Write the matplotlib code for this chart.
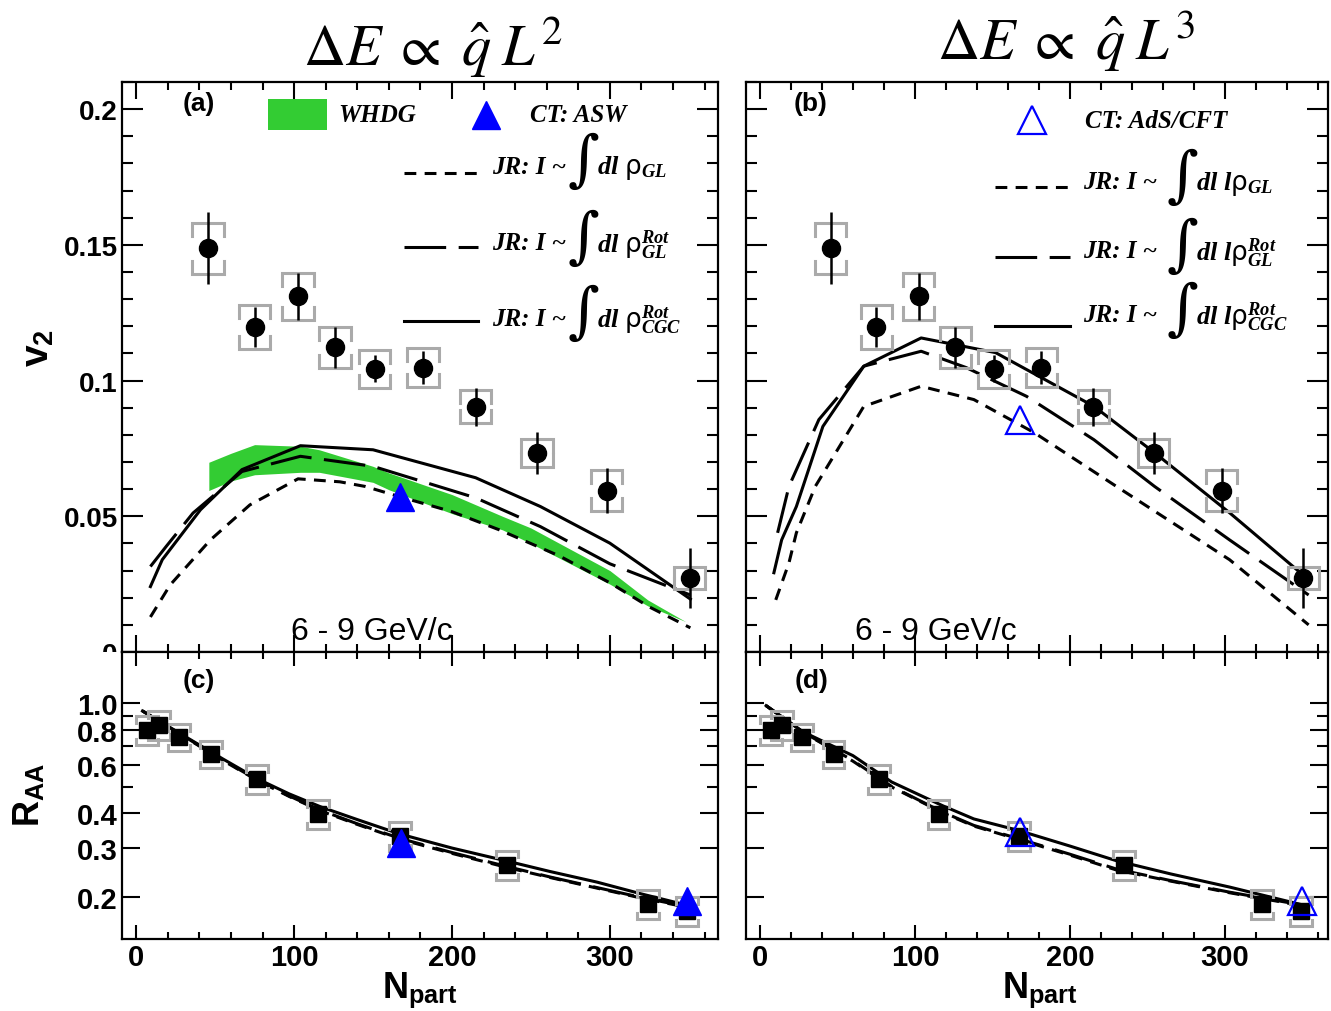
import numpy as np
import matplotlib
matplotlib.use('Agg')
import matplotlib.pyplot as plt
from matplotlib.patches import Rectangle
from matplotlib.transforms import Bbox, TransformedBbox
from matplotlib.ticker import FixedLocator, FixedFormatter, MultipleLocator, NullFormatter

plt.rcParams['mathtext.fontset'] = 'custom'
plt.rcParams['mathtext.it'] = 'Liberation Serif:italic:bold'
plt.rcParams['mathtext.rm'] = 'DejaVu Sans'
plt.rcParams['mathtext.bf'] = 'Liberation Sans:bold'
plt.rcParams['mathtext.sf'] = 'Liberation Sans'
plt.rcParams['lines.scale_dashes'] = False
plt.rcParams['font.family'] = ['Liberation Sans', 'DejaVu Sans']

# ---------------- data ----------------
# v2 (6-9 GeV/c) data
npart_v2 = [45.6, 75.0, 102.5, 126.0, 151.0, 181.6, 215.0, 254.0, 298.0, 350.5]
v2 = [0.1487, 0.1196, 0.1310, 0.1122, 0.1044, 0.1048, 0.0904, 0.0734, 0.0594, 0.0273]
v2_stat = [0.0133, 0.0074, 0.0087, 0.0074, 0.0050, 0.0060, 0.0070, 0.0078, 0.0083, 0.0110]
v2_sys = [0.0094, 0.0081, 0.0087, 0.0074, 0.0070, 0.0072, 0.0061, 0.0052, 0.0076, 0.0042]

# WHDG band (panel a)
whdg_n = [46, 60, 75, 104, 116, 150, 160, 200, 232, 250, 300, 324, 348]
whdg_hi = [0.0699, 0.0732, 0.0764, 0.0758, 0.0745, 0.0684, 0.0660, 0.0580, 0.0500, 0.0457, 0.0300, 0.0192, 0.0112]
whdg_lo = [0.0595, 0.0630, 0.0653, 0.0662, 0.0662, 0.0625, 0.0598, 0.0510, 0.0450, 0.0400, 0.0250, 0.0170, 0.0112]

# JR curves, panel a (dE ~ q L^2)
gl_a_n = [9, 21.5, 47, 72, 102.5, 129, 145, 167, 200, 230, 268, 300, 325, 351]
gl_a = [0.0129, 0.0247, 0.0413, 0.0542, 0.0638, 0.0627, 0.0610, 0.0572, 0.0517, 0.0450, 0.0354, 0.0255, 0.0166, 0.0089]
rotgl_a_n = [9, 19, 36, 67, 104, 150, 215, 256, 300, 351]
rotgl_a = [0.0315, 0.0389, 0.0512, 0.0665, 0.0721, 0.0684, 0.0568, 0.0462, 0.0325, 0.0210]
cgc_a_n = [9, 16.5, 40.7, 67, 104, 150, 215, 256, 300, 351]
cgc_a = [0.0241, 0.0340, 0.0524, 0.0672, 0.0760, 0.0745, 0.0642, 0.0536, 0.0401, 0.0195]
asw_n = [167]
asw_v2 = [0.0572]

# JR curves, panel b (dE ~ q L^3)
gl_b_n = [10.2, 18.7, 23.5, 35.7, 67, 104, 138, 177, 230, 303, 354]
gl_b = [0.0192, 0.0328, 0.0439, 0.0610, 0.0905, 0.0979, 0.0930, 0.0808, 0.0610, 0.0340, 0.0100]
rotgl_b_n = [11.4, 18.7, 38, 67, 104, 133, 172, 215.5, 254.6, 303, 354]
rotgl_b = [0.0439, 0.0610, 0.0856, 0.1053, 0.1108, 0.1048, 0.0942, 0.0782, 0.0610, 0.0413, 0.0210]
cgc_b_n = [9, 14, 23.5, 40.6, 67, 104, 152, 215.5, 254.6, 303, 351.6]
cgc_b = [0.0292, 0.0413, 0.0536, 0.0831, 0.1053, 0.1157, 0.1103, 0.0905, 0.0734, 0.0513, 0.0278]
ads_n = [167.7]
ads_v2 = [0.0856]

# R_AA data
npart_raa = [7.0, 14.2, 27.2, 47.5, 76.6, 115.2, 167.0, 235.0, 324.0, 349.0]
raa = [0.801, 0.833, 0.754, 0.655, 0.532, 0.398, 0.332, 0.2615, 0.1887, 0.178]
raa_sys = [0.12, 0.12, 0.11, 0.11, 0.12, 0.12, 0.12, 0.12, 0.12, 0.12]

# R_AA curves panel c
raa_c_n = [4, 30, 55, 77, 97, 117, 140, 167, 200, 234, 262, 292, 320, 350]
raa_cgc_c = [0.936, 0.763, 0.628, 0.532, 0.470, 0.422, 0.380, 0.337, 0.300, 0.270, 0.247, 0.226, 0.205, 0.186]
raa_rotgl_c = [0.936, 0.760, 0.622, 0.527, 0.462, 0.410, 0.367, 0.325, 0.289, 0.258, 0.236, 0.216, 0.199, 0.184]
raa_gl_c = [0.936, 0.758, 0.620, 0.525, 0.460, 0.408, 0.365, 0.323, 0.287, 0.256, 0.235, 0.215, 0.198, 0.183]
asw_raa_n = [168, 349]
asw_raa = [0.314, 0.193]

# R_AA curves panel d
raa_d_n = [4, 28, 60, 85, 118, 138, 167, 200, 230, 265, 303, 352]
raa_cgc_d = [0.978, 0.786, 0.646, 0.519, 0.426, 0.382, 0.347, 0.305, 0.270, 0.242, 0.217, 0.186]
raa_rotgl_d = [0.978, 0.784, 0.620, 0.500, 0.404, 0.362, 0.324, 0.285, 0.252, 0.229, 0.208, 0.186]
raa_gl_d = [0.978, 0.782, 0.617, 0.498, 0.402, 0.360, 0.322, 0.283, 0.250, 0.228, 0.207, 0.185]
ads_raa_n = [168, 350]
ads_raa = [0.344, 0.193]

# ---------------- layout ----------------
W, H = 1331, 1012
fig = plt.figure(figsize=(W / 100, H / 100), dpi=100)


def rect(x0, y0, x1, y1):
    return [x0 / W, 1 - y1 / H, (x1 - x0) / W, (y1 - y0) / H]


def fx(x):
    return x / W


def fy(y):
    return 1 - y / H


axA = fig.add_axes(rect(122, 83, 718, 653))
axC = fig.add_axes(rect(122, 653, 718, 940))
axB = fig.add_axes(rect(746, 83, 1328, 653))
axD = fig.add_axes(rect(746, 653, 1328, 940))

SHORT = (0, (8.5, 6))
LONG = (0, (30, 9))
LW = 2.2
GREY = '#aaaaaa'
GREEN = '#33cc33'
TICKFS = 20


def style_axis(ax, bottom_panel):
    for s in ax.spines.values():
        s.set_linewidth(1.6)
    ax.tick_params(which='both', direction='in', top=True, right=True, width=1.5)
    if bottom_panel:
        ax.tick_params(axis='x', which='major', length=10, pad=3)
        ax.tick_params(axis='x', which='minor', length=5)
        ax.tick_params(axis='y', which='major', length=13, pad=3)
        ax.tick_params(axis='y', which='minor', length=8)
    else:
        ax.tick_params(axis='x', which='major', length=12)
        ax.tick_params(axis='x', which='minor', length=6)
        ax.tick_params(axis='y', which='major', length=15, pad=3)
        ax.tick_params(axis='y', which='minor', length=8)
    ax.xaxis.set_major_locator(MultipleLocator(100))
    ax.xaxis.set_minor_locator(MultipleLocator(20))
    for lbl in ax.get_xticklabels() + ax.get_yticklabels():
        lbl.set_fontweight('bold')
        lbl.set_fontsize(TICKFS)


def brackets(ax, xs, ys, dx, lo, hi, leg, log=False):
    for x, y, l, h in zip(xs, ys, lo, hi):
        if log:
            lt = h / leg
            lb = l * leg
        else:
            lt = max(h - leg, y)
            lb = min(l + leg, y)
        ax.plot([x - dx, x - dx, x + dx, x + dx], [lt, h, h, lt], color=GREY,
                lw=2.2, zorder=3, solid_joinstyle='miter')
        ax.plot([x - dx, x - dx, x + dx, x + dx], [lb, l, l, lb], color=GREY,
                lw=2.2, zorder=3, solid_joinstyle='miter')


# ---------- top panels ----------
for ax, xl in ((axA, (-9, 368.5)), (axB, (-9, 366.5))):
    ax.set_xlim(*xl)
    ax.set_ylim(0, 0.21)
    style_axis(ax, False)
    ax.yaxis.set_major_locator(MultipleLocator(0.05))
    ax.yaxis.set_minor_locator(MultipleLocator(0.01))
    ax.tick_params(labelbottom=False)
    v2_lo = [v - s for v, s in zip(v2, v2_sys)]
    v2_hi = [v + s for v, s in zip(v2, v2_sys)]
    brackets(ax, npart_v2, v2, 10, v2_lo, v2_hi, 0.0048)
    ax.errorbar(npart_v2, v2, yerr=v2_stat, fmt='o', color='k', ms=13,
                elinewidth=1.8, capsize=0, zorder=5)

axA.yaxis.set_major_formatter(FixedFormatter(['0', '0.05', '0.1', '0.15', '0.2']))
axA.yaxis.set_major_locator(FixedLocator([0, 0.05, 0.1, 0.15, 0.2]))
for lbl in axA.get_yticklabels():
    lbl.set_fontweight('bold')
    lbl.set_fontsize(TICKFS)
axB.tick_params(labelleft=False)

# panel a curves
axA.fill_between(whdg_n, whdg_lo, whdg_hi, color=GREEN, lw=0, zorder=1)
axA.plot(gl_a_n, gl_a, color='k', lw=LW, linestyle=SHORT, zorder=2)
axA.plot(rotgl_a_n, rotgl_a, color='k', lw=LW, linestyle=LONG, zorder=2)
axA.plot(cgc_a_n, cgc_a, color='k', lw=LW, zorder=2)
axA.plot(asw_n, asw_v2, '^', color='#0000ff', ms=20, zorder=6)

# panel b curves
axB.plot(gl_b_n, gl_b, color='k', lw=LW, linestyle=SHORT, zorder=2)
axB.plot(rotgl_b_n, rotgl_b, color='k', lw=LW, linestyle=LONG, zorder=2)
axB.plot(cgc_b_n, cgc_b, color='k', lw=LW, zorder=2)
axB.plot(ads_n, ads_v2, '^', mfc='none', mec='#0000ff', mew=1.6, ms=20, zorder=6)

# ---------- bottom panels ----------
for ax, xl in ((axC, (-9, 368.5)), (axD, (-9, 366.5))):
    ax.set_xlim(*xl)
    ax.set_yscale('log')
    ax.set_ylim(0.141, 1.527)
    style_axis(ax, True)
    ax.yaxis.set_major_locator(FixedLocator([0.2, 0.3, 0.4, 0.6, 0.8, 1.0]))
    ax.yaxis.set_major_formatter(FixedFormatter(['0.2', '0.3', '0.4', '0.6', '0.8', '1.0']))
    ax.yaxis.set_minor_locator(FixedLocator([0.5, 0.7, 0.9]))
    ax.yaxis.set_minor_formatter(NullFormatter())
    ax.xaxis.set_major_formatter(FixedFormatter(['0', '100', '200', '300']))
    ax.xaxis.set_major_locator(FixedLocator([0, 100, 200, 300]))
    for lbl in ax.get_xticklabels() + ax.get_yticklabels():
        lbl.set_fontweight('bold')
        lbl.set_fontsize(TICKFS + 1)
    r_lo = [r * (1 - s) for r, s in zip(raa, raa_sys)]
    r_hi = [r * (1 + s) for r, s in zip(raa, raa_sys)]
    brackets(ax, npart_raa, raa, 7, r_lo, r_hi, 1.055, log=True)
    ax.plot(npart_raa, raa, 's', color='k', ms=12, zorder=5)

axD.tick_params(labelleft=False)

axC.plot(raa_c_n, raa_gl_c, color='k', lw=LW, linestyle=SHORT, zorder=2)
axC.plot(raa_c_n, raa_rotgl_c, color='k', lw=LW, linestyle=LONG, zorder=2)
axC.plot(raa_c_n, raa_cgc_c, color='k', lw=LW, zorder=2)
axC.plot(asw_raa_n, asw_raa, '^', color='#0000ff', ms=20, zorder=6)

axD.plot(raa_d_n, raa_gl_d, color='k', lw=LW, linestyle=SHORT, zorder=2)
axD.plot(raa_d_n, raa_rotgl_d, color='k', lw=LW, linestyle=LONG, zorder=2)
axD.plot(raa_d_n, raa_cgc_d, color='k', lw=LW, zorder=2)
axD.plot(ads_raa_n, ads_raa, '^', mfc='none', mec='#0000ff', mew=1.6, ms=20, zorder=6)

# clip the "0" label of the top-left panel at the panel border
clipbox = TransformedBbox(Bbox.from_extents(0, fy(653), 1, 1), fig.transFigure)
for t in axA.yaxis.get_major_ticks():
    t.label1.set_clip_box(clipbox)
    t.label1.set_clip_on(True)

# ---------- texts ----------
fig.text(fx(433), fy(48), r'$\Delta E\;\propto\;\hat{q}\;L^{2}$', math_fontfamily='stix',
         fontsize=42, ha='center', va='center')
fig.text(fx(1066), fy(42), r'$\Delta E\;\propto\;\hat{q}\;L^{3}$', math_fontfamily='stix',
         fontsize=42, ha='center', va='center')

for x, y, s in ((199, 104, '(a)'), (811, 104, '(b)'), (199, 681, '(c)'), (812, 681, '(d)')):
    fig.text(fx(x), fy(y), s, fontsize=19, fontweight='bold', ha='center', va='center')

for x in (372, 936):
    fig.text(fx(x), fy(632), '6 - 9 GeV/c', fontsize=23, ha='center', va='center')

fig.text(fx(38), fy(348), r'$\mathbf{v}_{\mathbf{2}}$', fontsize=28, rotation=90,
         ha='center', va='center')
fig.text(fx(30), fy(795), r'$\mathbf{R}_{\mathbf{AA}}$', fontsize=26, rotation=90,
         ha='center', va='center')
for x in (420, 1040):
    fig.text(fx(x), fy(1010), r'$\mathbf{N}_{\mathbf{part}}$', fontsize=26,
             ha='center', va='bottom')

SERIF_BI = dict(family='Liberation Serif', style='italic', weight='bold', fontsize=18)

# legend panel a
fig.patches.append(Rectangle((fx(268), fy(131)), (327 - 268) / W, 31 / H,
                             transform=fig.transFigure, color=GREEN, lw=0))
fig.text(fx(338), fy(116), 'WHDG', va='center', ha='left', **SERIF_BI)
fig.lines.append(plt.Line2D([fx(486)], [fy(116)], marker='^', color='#0000ff', ms=20,
                            transform=fig.transFigure))
fig.text(fx(530), fy(116), 'CT: ASW', va='center', ha='left', **SERIF_BI)

# legend panel b
fig.lines.append(plt.Line2D([fx(1032)], [fy(121)], marker='^', mfc='none', mec='#0000ff',
                            mew=1.6, ms=20, transform=fig.transFigure))
fig.text(fx(1085), fy(122), 'CT: AdS/CFT', va='center', ha='left', **SERIF_BI)

row_styles = [SHORT, LONG, '-']
rows_a = [(174, 167, r'$dl\ \mathrm{\rho}_{GL}$'),
          (248, 244, r'$dl\ \mathrm{\rho}^{Rot}_{GL}$'),
          (322, 319, r'$dl\ \mathrm{\rho}^{Rot}_{CGC}$')]
rows_b = [(188, 183, r'$dl\ l\mathrm{\rho}_{GL}$'),
          (258, 252, r'$dl\ l\mathrm{\rho}^{Rot}_{GL}$'),
          (327, 316, r'$dl\ l\mathrm{\rho}^{Rot}_{CGC}$')]

for (x0, x1, xt, xm), rows in (((404, 478, 492, 597), rows_a),
                                ((995, 1070, 1083, 1196), rows_b)):
    for ls, (yl, yt, s) in zip(row_styles, rows):
        fig.lines.append(plt.Line2D([fx(x0), fx(x1)], [fy(yl), fy(yl)], color='k', lw=LW,
                                    linestyle=ls, transform=fig.transFigure))
        fig.text(fx(xt), fy(yt), 'JR: I ~', va='center', ha='left', **SERIF_BI)
        fig.text(fx(xm + 2), fy(yt - 5), '\u222b', family='DejaVu Serif', fontsize=44,
                 va='center', ha='right')
        fig.text(fx(xm), fy(yt + 1), s, fontsize=19, va='center', ha='left',
                 math_fontfamily='custom')

fig.savefig('out.png', dpi=100)
